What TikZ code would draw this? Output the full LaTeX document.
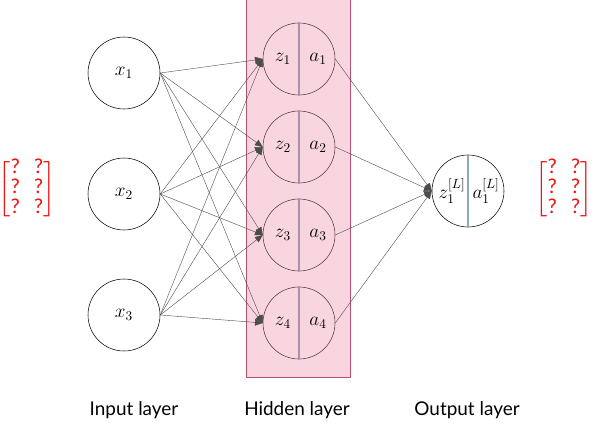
\documentclass[tikz,border=0pt]{standalone}
\usepackage{amsmath}
\usepackage{fontspec}
\setsansfont{Lato}
\newfontfamily\qfont{Carlito}
\usetikzlibrary{arrows}
\definecolor{hidfill}{HTML}{F9D5DF}
\definecolor{hidedge}{HTML}{B5506F}
\definecolor{hidline}{HTML}{5A2E3E}
\definecolor{hiddiv}{HTML}{A890A8}
\definecolor{outdiv}{HTML}{8FA6BC}
\definecolor{qred}{HTML}{F01010}
\tikzset{
  neuron/.style={circle,draw=black,minimum size=54pt,inner sep=0pt,font=\Large},
  hidneuron/.style={circle,draw=hidline,minimum size=54pt,inner sep=0pt},
  nlabel/.style={font=\Large,inner sep=0pt},
  conn/.style={color=black!70,line width=0.3pt},
  layerlabel/.style={font=\sffamily\fontsize{14.2}{17}\selectfont},
  qmatrix/.style={color=qred,font=\qfont\fontsize{16}{14.5}\selectfont}
}
\begin{document}
\begin{tikzpicture}[line cap=round,line join=round,>=triangle 45,x=0.75pt,y=-0.75pt]
    \useasboundingbox (0,0) rectangle (598,431);
    % hidden layer band
    \draw[color=hidedge,fill=hidfill,line width=0.75pt] (246,0) rectangle (350,377);
    % input layer
    \foreach \i/\y in {1/73,2/194,3/315}
    \node[neuron] (x\i) at (124,\y) {$x_{\i}$};
    % hidden layer
    \foreach \j/\y in {1/59,2/147,3/235,4/323}
    {
      \node[hidneuron] (h\j) at (299,\y) {};
      \draw[color=hiddiv,line width=1.1pt] (h\j.north) -- (h\j.south);
      \node[nlabel] (z\j) at (283,\y) {$z_{\j}$};
      \node[nlabel] (a\j) at (318,\y) {$a_{\j}$};
    }
    % output layer
    \node[neuron] (o1) at (468,191) {};
    \draw[color=outdiv,line width=1.1pt] (o1.north) -- (o1.south);
    \node[nlabel] (zo) at (452,191) {$z_1^{[L]}$};
    \node[nlabel] (ao) at (486,191) {$a_1^{[L]}$};
    % connections
    \foreach \i in {1,2,3}
    \foreach \j in {1,2,3,4}
    \draw[conn,->] (x\i.east) -- (h\j.west);
    \foreach \j in {1,2,3,4}
    \draw[conn,->] (h\j.east) -- (o1.west);
    % matrices
    \node[qmatrix] (ml) at (27,189) {$\left[\begin{matrix}\text{?} & \text{?}\\ \text{?} & \text{?}\\ \text{?} & \text{?}\end{matrix}\right]$};
    \node[qmatrix] (mr) at (564,189) {$\left[\begin{matrix}\text{?} & \text{?}\\ \text{?} & \text{?}\\ \text{?} & \text{?}\end{matrix}\right]$};
    % labels
    \node[layerlabel] (lin) at (134,410) {Input layer};
    \node[layerlabel] (lhid) at (297,410) {Hidden layer};
    \node[layerlabel] (lout) at (467,410) {Output layer};
\end{tikzpicture}
\end{document}
